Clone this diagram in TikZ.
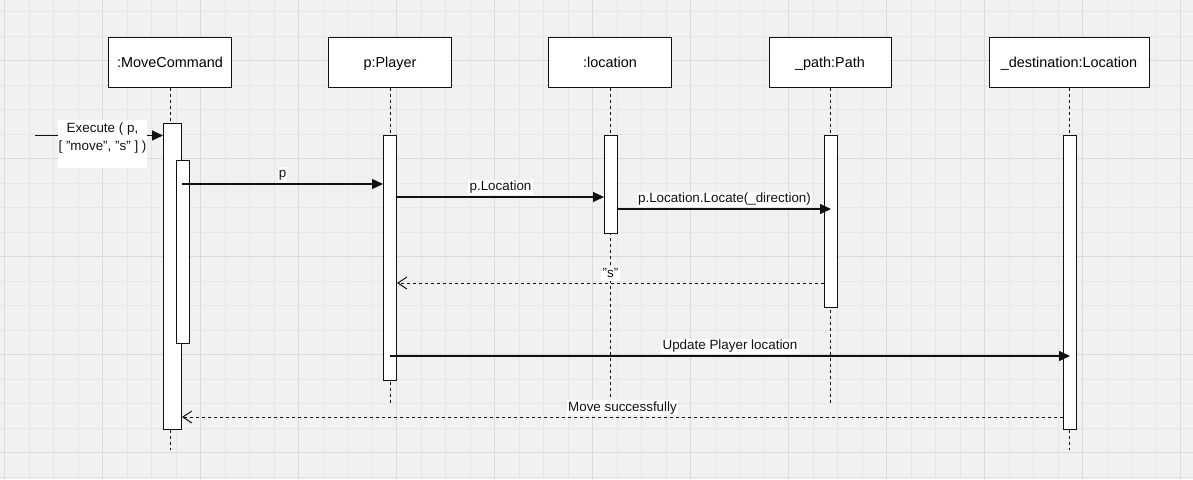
\documentclass[tikz,border=0pt]{standalone}
\usepackage{fontspec}
\setmainfont{Liberation Sans}
\usetikzlibrary{arrows.meta}
\definecolor{bgcol}{HTML}{F1F1F1}
\definecolor{gridminor}{HTML}{E6E6E6}
\definecolor{gridmajor}{HTML}{DADADA}
\definecolor{ink}{HTML}{111111}
\tikzset{
  head/.style={draw=ink, line width=1pt, fill=white, minimum height=50pt, inner sep=0pt, text height=10.4pt, text depth=0pt, font=\fontsize{14.4}{17}\selectfont},
  act/.style={draw=ink, line width=1pt, fill=white, inner sep=0pt, anchor=north west},
  life/.style={draw=ink, line width=1pt, dash pattern=on 3pt off 3pt},
  msg/.style={draw=ink, line width=1.1pt, -{Triangle[length=11pt,width=10pt]}},
  ret/.style={draw=ink, line width=1pt, dash pattern=on 3pt off 3pt, -{Straight Barb[length=9pt,width=12pt,line width=1pt]}},
  lbl/.style={fill=white, inner sep=1.2pt, text height=9.7pt, text depth=2.8pt, text=ink, font=\fontsize{13.4}{16}\selectfont},
}
\begin{document}
\begin{tikzpicture}[x=1pt,y=-1pt]
\useasboundingbox (0,0) rectangle (1193,479);
\fill[bgcol] (0,0) rectangle (1193,479);
% grid
\foreach \i in {0,...,48} {\draw[gridminor, line width=0.9pt] ({4.7+24.5*\i},0) -- ({4.7+24.5*\i},479);}
\foreach \i in {0,...,19} {\draw[gridminor, line width=0.9pt] (0,{11.7+24.5*\i}) -- (1193,{11.7+24.5*\i});}
\foreach \i in {0,...,12} {\draw[gridmajor, line width=1pt] ({4.7+98*\i},0) -- ({4.7+98*\i},479);}
\foreach \i in {0,...,4} {\draw[gridmajor, line width=1pt] (0,{60.7+98*\i}) -- (1193,{60.7+98*\i});}

% heads
\node[head, minimum width=123pt] (mc) at (170,62) {:MoveCommand};
\node[head, minimum width=123pt] (pl) at (390,62) {p:Player};
\node[head, minimum width=123pt] (loc) at (610,62) {:location};
\node[head, minimum width=122pt] (path) at (830,62) {\_path:Path};
\node[head, minimum width=160pt] (dest) at (1069,62) {\_destination:Location};

% lifeline ends
\coordinate (mcEnd) at (170,450);
\coordinate (plEnd) at (390,404);
\coordinate (locEnd) at (610,404);
\coordinate (pathEnd) at (830,404);
\coordinate (destEnd) at (1069,450);

\draw[life] (mc.south) -- (mcEnd);
\draw[life] (pl.south) -- (plEnd);
\draw[life] (loc.south) -- (locEnd);
\draw[life] (path.south) -- (pathEnd);
\draw[life] (dest.south) -- (destEnd);

% activations
\node[act, minimum width=18pt, minimum height=306pt] (mcA) at (163,123) {};
\node[act, minimum width=13pt, minimum height=183pt] (mcB) at (176,160) {};
\node[act, minimum width=13pt, minimum height=245pt] (pA) at (383,135) {};
\node[act, minimum width=13pt, minimum height=98pt] (locA) at (604,135) {};
\node[act, minimum width=13pt, minimum height=172pt] (pathA) at (824,135) {};
\node[act, minimum width=13pt, minimum height=294pt] (dA) at (1063,135) {};

% execute
\coordinate (start) at (35,135.5);
\draw[msg] (start) -- (mcA.west |- start);
\fill[white] (58,120) rectangle (147,168);
\node[fill=none, align=center, inner sep=0pt, text=ink, font=\fontsize{13.4}{18}\selectfont] (exlbl) at (102.5,138.5) {Execute ( p,\\{[} "move", "s" ] )};

% messages
\draw[msg] (mcA.east |- 0,184) -- node[lbl, above=1.5pt] {p} (pA.west |- 0,184);
\draw[msg] (pA.east |- 0,197) -- node[lbl, above=1.5pt] {p.Location} (locA.west |- 0,197);
\draw[msg] (locA.east |- 0,209) -- node[lbl, above=1.5pt] {p.Location.Locate(\_direction)} (pathA.center |- 0,209);
\draw[ret] (pathA.west |- 0,283) -- node[lbl, above=1.5pt] {"s"} (pA.east |- 0,283);
\draw[msg] (pA.center |- 0,356) -- node[lbl, above=1.5pt] {Update Player location} (dA.center |- 0,356);
\draw[ret] (dA.west |- 0,417) -- node[lbl, above=1.5pt] {Move successfully} (mcA.east |- 0,417);
\end{tikzpicture}
\end{document}
